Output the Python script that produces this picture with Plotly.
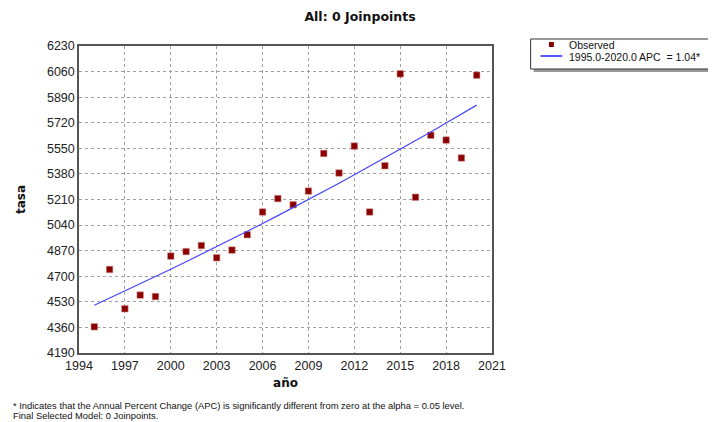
import plotly.graph_objects as go

years = list(range(1995, 2021))
observed = [4364, 4745, 4484, 4575, 4565, 4834, 4864, 4904, 4823, 4874,
            4976, 5127, 5216, 5175, 5266, 5516, 5386, 5565, 5127, 5434,
            6045, 5225, 5637, 5605, 5486, 6036]
fitted = [4507, 4554, 4601, 4649, 4698, 4746, 4796, 4846, 4896, 4947,
          4998, 5050, 5103, 5156, 5210, 5264, 5318, 5374, 5430, 5486,
          5543, 5601, 5659, 5718, 5777, 5837]

x_ticks = list(range(1994, 2022, 3))
y_ticks = list(range(4190, 6231, 170))

obs_name = "Observed"
fit_name = "1995.0-2020.0 APC  = 1.04*"

W, H = 708, 414
L, R, T, B = 67, 224, 38, 69
PW, PH = W - L - R, H - T - B


def px(xf):
    return (xf - L) / PW


def py(yf):
    return (T + PH - yf) / PH


fig = go.Figure()
fig.add_trace(go.Scatter(
    x=years, y=observed, mode="markers", name=obs_name, showlegend=False,
    marker=dict(symbol="square", size=6.5, color="#8B0000",
                line=dict(width=1, color="rgba(210,140,140,0.55)"))))
fig.add_trace(go.Scatter(
    x=years, y=fitted, mode="lines", name=fit_name, showlegend=False,
    line=dict(color="#4545FF", width=1.2)))

tick_font = dict(family="Liberation Sans, Arial", size=12.5, color="#222")
title_font = dict(family="DejaVu Sans", size=12, color="#111")
fig.update_layout(
    width=W, height=H,
    margin=dict(l=L, r=R, t=T, b=B),
    paper_bgcolor="white", plot_bgcolor="white",
    title=dict(text="<b>All: 0 Joinpoints</b>", x=352 / W, xanchor="center",
               y=1 - 9 / H, yanchor="middle",
               font=dict(family="DejaVu Sans", size=12.5, color="#111")),
    xaxis=dict(range=[1994, 2021], tickvals=x_ticks, ticks="", showgrid=True,
               gridcolor="#a0a0a0", griddash="dot", gridwidth=1,
               showline=True, linecolor="#555", linewidth=1.5, mirror=True,
               zeroline=False, tickfont=tick_font,
               title=dict(text="<b>año</b>", standoff=7, font=title_font)),
    yaxis=dict(range=[4190, 6230], tickvals=y_ticks, ticks="", showgrid=True,
               gridcolor="#a0a0a0", griddash="dot", gridwidth=1,
               showline=True, linecolor="#555", linewidth=1.5, mirror=True,
               zeroline=False, tickfont=tick_font,
               title=dict(text="<b>tasa</b>", standoff=19, font=title_font)),
    showlegend=False,
)

# custom legend box with shadow
fig.add_shape(type="rect", xref="paper", yref="paper",
              x0=px(526), x1=px(707), y0=py(64), y1=py(34),
              fillcolor="#9a9a9a", line=dict(width=0))
fig.add_shape(type="rect", xref="paper", yref="paper",
              x0=px(523), x1=px(705), y0=py(61), y1=py(31),
              fillcolor="white", line=dict(width=1, color="#333"))
fig.add_shape(type="rect", xref="paper", yref="paper",
              x0=px(541.5), x1=px(546.5), y0=py(39), y1=py(34),
              fillcolor="#8B0000", line=dict(width=0))
fig.add_shape(type="line", xref="paper", yref="paper",
              x0=px(533), x1=px(555), y0=py(48), y1=py(48),
              line=dict(color="#2020EE", width=1.5))
leg_font = dict(family="Liberation Sans, Arial", size=10.5, color="#111")
fig.add_annotation(xref="paper", yref="paper", x=px(560), y=py(36.5),
                   xanchor="left", yanchor="middle", showarrow=False,
                   text=obs_name, font=leg_font)
fig.add_annotation(xref="paper", yref="paper", x=px(560), y=py(48.5),
                   xanchor="left", yanchor="middle", showarrow=False,
                   text=fit_name, font=leg_font)

foot_font = dict(family="Liberation Sans, Arial", size=9.4, color="#111")
fig.add_annotation(xref="paper", yref="paper", x=px(-2), y=py(397),
                   xanchor="left", yanchor="middle", showarrow=False,
                   text="* Indicates that the Annual Percent Change (APC) is significantly different from zero at the alpha = 0.05 level.",
                   font=foot_font)
fig.add_annotation(xref="paper", yref="paper", x=px(-2), y=py(407.5),
                   xanchor="left", yanchor="middle", showarrow=False,
                   text="Final Selected Model: 0 Joinpoints.",
                   font=foot_font)

fig.write_html("out.html")
